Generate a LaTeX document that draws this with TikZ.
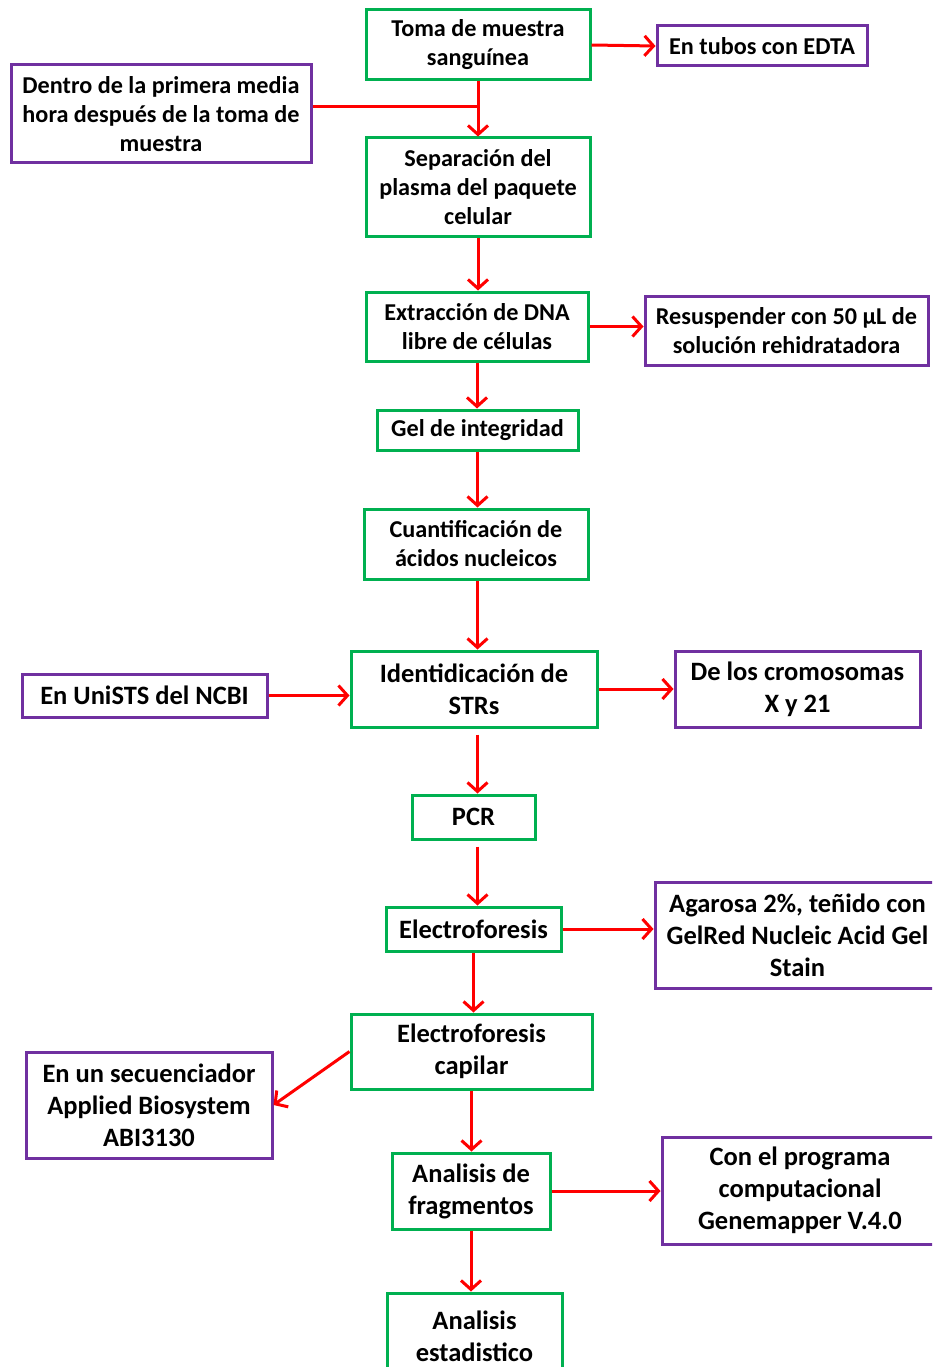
\documentclass[tikz,border=0pt]{standalone}
\usepackage{fontspec}
\setmainfont{Carlito}
\usetikzlibrary{arrows.meta}
\definecolor{bgreen}{RGB}{0,176,80}
\definecolor{bpurple}{RGB}{112,48,160}
\definecolor{ared}{RGB}{255,0,0}
\tikzset{
  box/.style={draw, line width=3pt, align=center, inner sep=0pt, font=\fontsize{24.2}{29}\selectfont\bfseries, text=black, fill=white},
  gbox/.style={box, draw=bgreen},
  pbox/.style={box, draw=bpurple},
  big/.style={font=\fontsize{26.5}{32}\selectfont\bfseries},
  conn/.style={draw=ared, line width=3pt},
  arr/.style={conn, -{Straight Barb[length=9pt, width=20pt, line width=3pt]}},
}
\newcommand{\bx}[7]{% style, name, x1, y1, x2, y2, text
  \node[#1, minimum width={(#5-#3)*1pt}, minimum height={(#6-#4)*1pt}] (#2) at ({(#3+#5)/2},{(#4+#6)/2}) {#7};}
\begin{document}
\begin{tikzpicture}[x=1pt, y=-1pt]
\useasboundingbox (0,0) rectangle (932,1367);
\clip (0,0) rectangle (932,1367);
\fill[white] (0,0) rectangle (932,1367);
\bx{gbox}{toma}{366}{10}{590}{80}{Toma de muestra\\sanguínea}
\bx{pbox}{edta}{657}{26}{867}{66}{En tubos con EDTA}
\bx{pbox}{dentro}{11}{65}{311}{163}{Dentro de la primera media\\hora después de la toma de\\muestra}
\bx{gbox}{sep}{366}{138}{590}{236}{Separación del\\plasma del paquete\\celular}
\bx{gbox}{ext}{366}{292}{588}{361}{Extracción de DNA\\libre de células}
\bx{pbox}{res}{645}{296}{928}{365}{Resuspender con 50 µL de\\solución rehidratadora}
\bx{gbox}{gel}{377}{410}{578}{450}{Gel de integridad}
\bx{gbox}{cuant}{364}{509}{588}{579}{Cuantificación de\\ácidos nucleicos}
\bx{gbox,big}{ident}{351}{651}{597}{727}{Identidicación de\\STRs}
\bx{pbox,big}{unists}{22}{674}{267}{717}{En UniSTS del NCBI}
\bx{pbox,big}{crom}{675}{651}{920}{727}{De los cromosomas\\X y 21}
\bx{gbox,big}{pcr}{412}{795}{535}{839}{PCR}
\bx{gbox,big}{electro}{386}{907}{561}{951}{Electroforesis}
\bx{pbox,big}{agar}{655}{882}{940}{988}{Agarosa 2\%, teñido con\\GelRed Nucleic Acid Gel\\Stain}
\bx{gbox,big}{cap}{351}{1014}{592}{1089}{Electroforesis\\capilar}
\bx{pbox,big}{sec}{26}{1052}{272}{1158}{En un secuenciador\\Applied Biosystem\\ABI3130}
\bx{gbox,big}{frag}{392}{1153}{550}{1229}{Analisis de\\fragmentos}
\bx{pbox,big}{prog}{662}{1137}{938}{1244}{Con el programa\\computacional\\Genemapper V.4.0}
\bx{gbox,big}{est}{387}{1293}{562}{1380}{Analisis\\estadistico}
\coordinate (j) at (478,107);
\draw[arr] (toma.east) -- (edta.west);
\draw[arr] (toma.south) -- (sep.north);
\draw[conn] (dentro.east |- j) -- (j);
\draw[arr] (sep.south) -- (sep.south |- ext.north);
\draw[arr] (ext.east) -- (res.west |- ext.east);
\draw[arr] (ext.south) -- (ext.south |- gel.north);
\draw[arr] (gel.south) -- (gel.south |- cuant.north);
\draw[arr] (cuant.south -| gel.south) -- (gel.south |- ident.north);
\draw[arr] (unists.east) -- (unists.east -| ident.west);
\draw[arr] (ident.east) -- (crom.west);
\draw[arr] ([yshift=-6pt]ident.south -| gel.south) -- (gel.south |- pcr.north);
\draw[arr] ([yshift=-6pt]pcr.south -| gel.south) -- (gel.south |- electro.north);
\draw[arr] (electro.east) -- (electro.east -| agar.west);
\draw[arr] (electro.south) -- (electro.south |- cap.north);
\draw[arr] (cap.west) -- (sec.east);
\draw[arr] (cap.south) -- (cap.south |- frag.north);
\draw[arr] (frag.east) -- (frag.east -| prog.west);
\draw[arr] (frag.south) -- (frag.south |- est.north);
\end{tikzpicture}
\end{document}
